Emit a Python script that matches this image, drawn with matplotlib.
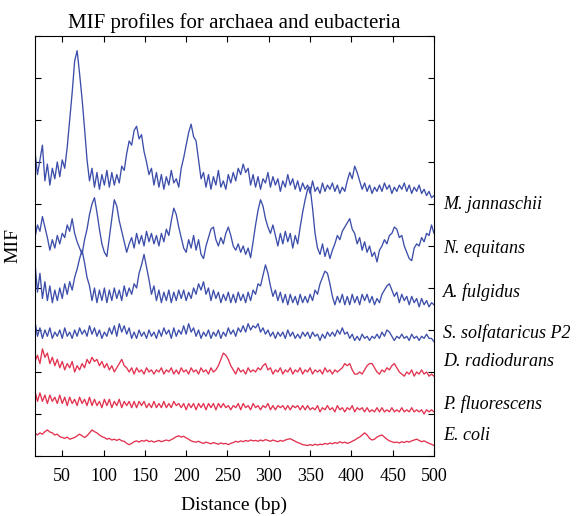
import numpy as np
import matplotlib
matplotlib.use("Agg")
from matplotlib import pyplot as plt

plt.rcParams['font.family'] = ['Liberation Serif', 'DejaVu Serif']

# distance grid (bp), one sample every 3 bp
distance = np.arange(17, 501, 3)

# stacked MIF profiles (offset per organism)
m_jannaschii = [
    7.25, 6.70, 7.05, 7.40, 6.55, 6.95, 6.45, 6.85, 6.60, 7.00,
    6.65, 7.05, 6.85, 7.35, 8.00, 8.65, 9.40, 9.65, 9.10, 8.50,
    7.80, 7.05, 6.55, 6.85, 6.40, 6.75, 6.35, 6.70, 6.45, 6.80,
    6.40, 6.75, 6.45, 6.70, 6.50, 6.90, 6.80, 7.20, 7.50, 7.40,
    7.75, 7.85, 7.55, 7.65, 7.25, 7.00, 6.70, 6.85, 6.45, 6.75,
    6.40, 6.70, 6.35, 6.65, 6.45, 6.80, 6.50, 6.60, 6.40, 6.85,
    7.10, 7.40, 7.70, 7.90, 7.60, 7.50, 7.05, 6.60, 6.75, 6.40,
    6.70, 6.35, 6.65, 6.45, 6.80, 6.40, 6.55, 6.35, 6.70, 6.50,
    6.75, 6.55, 6.85, 6.70, 6.95, 6.75, 6.85, 6.45, 6.70, 6.40,
    6.65, 6.35, 6.60, 6.50, 6.75, 6.40, 6.65, 6.45, 6.60, 6.30,
    6.55, 6.40, 6.70, 6.45, 6.60, 6.35, 6.55, 6.30, 6.50, 6.35,
    6.45, 6.25, 6.55, 6.30, 6.40, 6.25, 6.50, 6.30, 6.45, 6.35,
    6.50, 6.30, 6.45, 6.25, 6.40, 6.30, 6.55, 6.75, 6.60, 6.90,
    6.75, 6.55, 6.35, 6.50, 6.30, 6.45, 6.25, 6.40, 6.30, 6.45,
    6.30, 6.50, 6.35, 6.45, 6.25, 6.40, 6.30, 6.45, 6.35, 6.50,
    6.30, 6.45, 6.25, 6.40, 6.30, 6.45, 6.25, 6.35, 6.20, 6.30,
    6.15, 6.20,
]
n_equitans = [
    5.20, 5.50, 5.35, 5.70, 5.45, 5.20, 4.90, 5.15, 4.95, 5.25,
    5.05, 5.30, 5.20, 5.50, 5.35, 5.65, 5.30, 5.10, 4.95, 4.80,
    5.15, 5.40, 5.75, 6.00, 6.15, 5.80, 5.40, 5.05, 4.85, 4.75,
    5.20, 5.65, 6.10, 5.95, 5.60, 5.35, 5.10, 4.85, 5.05, 5.20,
    4.95, 5.30, 5.05, 5.25, 5.00, 5.35, 5.10, 5.30, 5.05, 5.25,
    5.00, 5.30, 5.10, 5.40, 5.25, 5.60, 5.90, 5.75, 5.45, 5.20,
    4.95, 4.85, 5.15, 4.95, 5.25, 4.90, 5.15, 4.80, 4.70, 5.00,
    5.20, 5.40, 5.45, 5.15, 5.00, 5.20, 5.05, 5.30, 5.45, 5.25,
    5.00, 4.90, 5.05, 4.85, 5.00, 4.80, 4.95, 4.72, 5.10, 5.50,
    5.85, 6.10, 5.95, 5.65, 5.45, 5.30, 5.50, 5.25, 5.00, 5.30,
    5.05, 5.35, 5.10, 5.30, 4.95, 5.25, 5.05, 5.45, 5.80, 6.10,
    6.35, 6.40, 5.90, 5.30, 4.95, 4.80, 5.05, 4.75, 4.95, 4.70,
    4.90, 5.05, 5.25, 5.15, 5.35, 5.45, 5.55, 5.65, 5.40, 5.30,
    5.05, 5.20, 4.90, 5.10, 4.85, 5.00, 4.75, 4.85, 4.62, 4.90,
    5.00, 5.15, 5.05, 5.25, 5.30, 5.45, 5.40, 5.20, 5.25, 5.00,
    4.85, 4.70, 4.65, 4.95, 5.05, 5.00, 5.20, 5.10, 5.30, 5.25,
    5.50, 5.30,
]
a_fulgidus = [
    4.60, 3.90, 4.35, 3.75, 4.15, 3.70, 4.05, 3.65, 3.95, 3.70,
    4.00, 3.75, 4.10, 3.85, 4.15, 3.95, 4.25, 4.45, 4.70, 4.90,
    4.60, 4.25, 4.05, 3.70, 4.00, 3.65, 3.95, 3.70, 4.00, 3.65,
    3.95, 3.70, 4.00, 3.75, 3.95, 3.70, 4.05, 3.80, 4.00, 3.85,
    4.10, 4.00, 4.35, 4.55, 4.80, 4.50, 4.20, 3.85, 4.05, 3.70,
    3.95, 3.65, 3.90, 3.70, 3.95, 3.65, 3.90, 3.70, 3.95, 3.75,
    3.95, 3.70, 3.90, 3.75, 4.00, 3.85, 4.10, 3.95, 4.15, 3.85,
    4.00, 3.70, 3.95, 3.75, 3.90, 3.65, 3.85, 3.70, 3.90, 3.65,
    3.85, 3.65, 3.90, 3.70, 3.85, 3.65, 3.90, 3.70, 3.95, 3.85,
    4.10, 4.05, 4.30, 4.55, 4.35, 4.05, 3.80, 3.95, 3.70, 3.90,
    3.65, 3.85, 3.60, 3.85, 3.65, 3.80, 3.60, 3.85, 3.65, 3.80,
    3.65, 3.85, 3.70, 3.95, 3.85, 4.10, 4.25, 4.40, 4.35, 4.10,
    3.80, 3.60, 3.80, 3.65, 3.85, 3.60, 3.80, 3.60, 3.85, 3.65,
    3.80, 3.60, 3.85, 3.70, 3.85, 3.65, 3.80, 3.60, 3.75, 3.65,
    3.85, 3.95, 4.05, 4.10, 3.95, 3.80, 3.90, 3.65, 3.85, 3.70,
    3.80, 3.60, 3.80, 3.65, 3.75, 3.55, 3.75, 3.60, 3.70, 3.55,
    3.65, 3.60,
]
s_solfataricus = [
    3.20, 2.85, 3.05, 2.80, 3.00, 2.85, 3.05, 2.80, 2.95, 2.85,
    3.00, 2.80, 3.05, 2.85, 2.95, 2.80, 3.00, 2.85, 3.05, 2.90,
    3.00, 2.85, 3.10, 2.90, 3.05, 2.85, 3.00, 2.80, 2.95, 2.85,
    3.05, 2.90, 3.10, 2.85, 3.15, 2.95, 3.10, 2.90, 3.05, 2.80,
    2.95, 2.80, 3.00, 2.85, 2.95, 2.80, 3.00, 2.85, 2.95, 2.80,
    3.00, 2.85, 3.05, 2.90, 3.00, 2.80, 3.05, 2.85, 3.00, 2.90,
    3.10, 2.90, 3.15, 2.95, 3.05, 2.85, 3.00, 2.80, 2.95, 2.85,
    3.00, 2.80, 2.95, 2.85, 3.00, 2.80, 2.95, 2.85, 3.05, 2.90,
    3.00, 2.85, 3.05, 2.95, 3.10, 2.95, 3.15, 3.00, 3.10, 3.05,
    3.15, 2.95, 3.05, 2.90, 3.00, 2.85, 2.95, 2.80, 2.95, 2.85,
    2.95, 2.80, 3.00, 2.85, 2.95, 2.80, 2.90, 2.80, 2.95, 2.85,
    2.95, 2.80, 2.95, 2.85, 2.90, 2.75, 2.90, 2.80, 2.95, 2.85,
    2.95, 2.85, 3.00, 2.90, 3.05, 2.90, 2.95, 2.80, 2.90, 2.75,
    2.85, 2.75, 2.90, 2.80, 2.85, 2.75, 2.85, 2.80, 2.90, 2.80,
    2.95, 2.85, 3.00, 2.95, 2.85, 2.75, 2.85, 2.80, 2.90, 2.80,
    2.85, 2.75, 2.90, 2.80, 2.85, 2.75, 2.85, 2.80, 2.90, 2.80,
    2.80, 2.72,
]
d_radiodurans = [
    2.25, 2.40, 2.20, 2.55, 2.35, 2.45, 2.20, 2.35, 2.15, 2.30,
    2.10, 2.25, 2.05, 2.20, 2.10, 2.25, 2.00, 2.15, 2.05, 2.20,
    2.10, 2.30, 2.20, 2.35, 2.25, 2.30, 2.15, 2.25, 2.10, 2.20,
    2.05, 2.15, 2.00, 2.10, 2.20, 2.30, 2.15, 2.10, 2.00, 2.10,
    1.95, 2.10, 2.00, 2.05, 1.95, 2.10, 2.00, 2.05, 1.95, 2.05,
    2.00, 2.10, 1.95, 2.05, 2.00, 2.10, 1.95, 2.05, 1.95, 2.10,
    2.00, 2.05, 1.95, 2.10, 2.00, 2.05, 1.95, 2.10, 2.00, 2.05,
    1.95, 2.10, 2.00, 2.05, 2.15, 2.30, 2.45, 2.40, 2.30, 2.15,
    2.05, 1.95, 2.10, 2.00, 2.05, 1.95, 2.10, 2.00, 2.05, 2.00,
    2.10, 2.05, 2.15, 2.20, 2.05, 2.10, 1.95, 2.05, 2.00, 2.10,
    1.95, 2.05, 2.00, 2.10, 1.95, 2.05, 2.00, 2.10, 1.95, 2.05,
    2.00, 2.10, 1.95, 2.05, 2.00, 2.05, 1.95, 2.10, 2.00, 2.05,
    1.95, 2.05, 2.00, 2.05, 2.10, 2.20, 2.15, 2.20, 2.05, 1.95,
    1.95, 2.00, 1.95, 2.05, 2.15, 2.20, 2.20, 2.10, 2.00, 1.95,
    2.05, 2.00, 2.10, 2.05, 2.15, 2.20, 2.10, 2.00, 1.95, 1.90,
    2.00, 1.95, 2.05, 1.90, 2.00, 1.95, 2.05, 1.95, 2.00, 1.90,
    1.95, 1.90,
]
p_fluorescens = [
    1.55, 1.30, 1.50, 1.30, 1.45, 1.25, 1.45, 1.30, 1.40, 1.25,
    1.45, 1.25, 1.40, 1.20, 1.40, 1.25, 1.35, 1.20, 1.40, 1.25,
    1.35, 1.20, 1.40, 1.20, 1.35, 1.20, 1.30, 1.15, 1.35, 1.20,
    1.35, 1.15, 1.30, 1.20, 1.35, 1.15, 1.30, 1.20, 1.30, 1.15,
    1.30, 1.15, 1.30, 1.20, 1.30, 1.15, 1.25, 1.15, 1.30, 1.15,
    1.25, 1.15, 1.30, 1.15, 1.25, 1.15, 1.30, 1.20, 1.25, 1.15,
    1.25, 1.10, 1.25, 1.15, 1.25, 1.10, 1.25, 1.15, 1.25, 1.10,
    1.25, 1.15, 1.25, 1.10, 1.25, 1.15, 1.25, 1.15, 1.20, 1.10,
    1.20, 1.15, 1.25, 1.10, 1.25, 1.15, 1.20, 1.10, 1.25, 1.15,
    1.20, 1.10, 1.20, 1.15, 1.25, 1.10, 1.20, 1.10, 1.20, 1.15,
    1.20, 1.10, 1.20, 1.10, 1.20, 1.15, 1.20, 1.10, 1.20, 1.10,
    1.20, 1.10, 1.15, 1.10, 1.20, 1.05, 1.15, 1.10, 1.20, 1.10,
    1.15, 1.05, 1.20, 1.10, 1.15, 1.05, 1.15, 1.10, 1.20, 1.05,
    1.15, 1.10, 1.15, 1.05, 1.15, 1.05, 1.10, 1.05, 1.15, 1.05,
    1.15, 1.05, 1.10, 1.05, 1.15, 1.05, 1.10, 1.05, 1.15, 1.05,
    1.10, 1.05, 1.15, 1.05, 1.10, 1.05, 1.10, 1.00, 1.10, 1.05,
    1.10, 1.05,
]
e_coli = [
    0.55, 0.50, 0.55, 0.52, 0.58, 0.62, 0.57, 0.55, 0.50, 0.52,
    0.46, 0.44, 0.42, 0.45, 0.40, 0.42, 0.44, 0.48, 0.52, 0.48,
    0.44, 0.48, 0.55, 0.62, 0.58, 0.55, 0.50, 0.46, 0.44, 0.40,
    0.42, 0.38, 0.40, 0.37, 0.40, 0.36, 0.35, 0.30, 0.27, 0.30,
    0.34, 0.36, 0.33, 0.37, 0.35, 0.38, 0.34, 0.36, 0.33, 0.35,
    0.37, 0.34, 0.36, 0.38, 0.36, 0.39, 0.42, 0.46, 0.48, 0.45,
    0.47, 0.43, 0.40, 0.36, 0.34, 0.33, 0.35, 0.32, 0.30, 0.33,
    0.31, 0.29, 0.32, 0.30, 0.28, 0.31, 0.29, 0.30, 0.27, 0.30,
    0.32, 0.35, 0.33, 0.36, 0.34, 0.37, 0.35, 0.38, 0.36, 0.37,
    0.35, 0.38, 0.36, 0.39, 0.37, 0.35, 0.38, 0.36, 0.34, 0.37,
    0.35, 0.38, 0.40, 0.41, 0.38, 0.35, 0.32, 0.30, 0.27, 0.26,
    0.25, 0.27, 0.25, 0.28, 0.26, 0.28, 0.27, 0.30, 0.28, 0.31,
    0.29, 0.32, 0.30, 0.34, 0.31, 0.33, 0.30, 0.32, 0.35, 0.38,
    0.42, 0.45, 0.50, 0.55, 0.50, 0.42, 0.38, 0.40, 0.45, 0.48,
    0.50, 0.45, 0.40, 0.36, 0.34, 0.32, 0.33, 0.31, 0.34, 0.32,
    0.35, 0.33, 0.36, 0.38, 0.40, 0.37, 0.34, 0.36, 0.33, 0.30,
    0.28, 0.25,
]

names = ["M. jannaschii", "N. equitans", "A. fulgidus", "S. solfataricus P2",
         "D. radiodurans", "P. fluorescens", "E. coli"]
profiles = [m_jannaschii, n_equitans, a_fulgidus, s_solfataricus,
            d_radiodurans, p_fluorescens, e_coli]
label_y = [5.98, 4.95, 3.90, 2.93, 2.24, 1.24, 0.48]

blue = "#3c4eaa"
red = "#e2324f"
colors = [blue] * 4 + [red] * 3

fig = plt.figure(figsize=(5.88, 5.16), dpi=100)
ax = fig.add_axes([0.0595, 0.1163, 0.6786, 0.814])

for prof, c in zip(profiles, colors):
    ax.plot(distance, prof, color=c, lw=0.95)

for name, yy in zip(names, label_y):
    ax.text(1.022, yy, name, transform=ax.get_yaxis_transform(),
            fontsize=13, style='italic', va='center', ha='left')

ax.set_xlim(17, 500)
ax.set_ylim(0, 10)
ax.set_xticks(np.arange(50, 501, 50))
ax.set_yticks(np.arange(0, 11, 1))
ax.set_yticklabels([])
ax.tick_params(direction='in', top=True, right=True, length=4, width=0.8,
               labelsize=13)
ax.tick_params(axis='x', pad=9)
for s in ax.spines.values():
    s.set_linewidth(0.8)

ax.set_title("MIF profiles for archaea and eubacteria", fontsize=15, pad=6)
ax.set_xlabel("Distance (bp)", fontsize=14, labelpad=8)
ax.set_ylabel("MIF", fontsize=14)
ax.yaxis.set_label_coords(-0.035, 0.5)

fig.savefig("out.png", dpi=100)
